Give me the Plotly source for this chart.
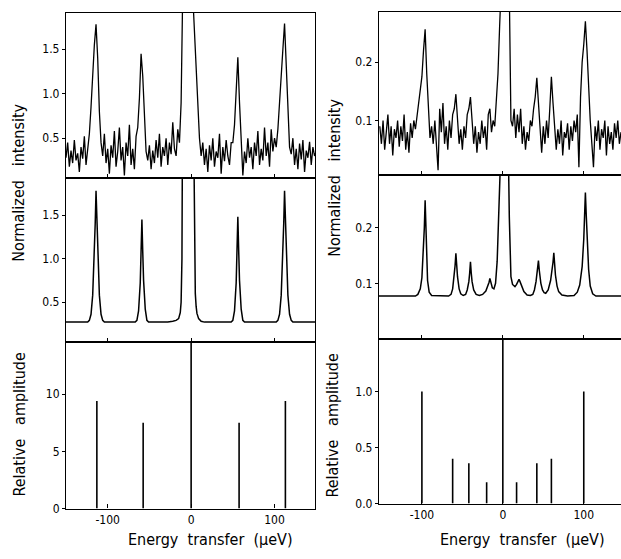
import plotly.graph_objects as go

# ---------------- data ----------------
# Left column: noisy measured spectrum (top), x grid -150..150 step 2
LT_X = list(range(-150, 151, 2))
LT_Y = [
    0.28, 0.45, 0.18, 0.36, 0.22, 0.48, 0.25, 0.33, 0.12, 0.40, 0.27, 0.52, 0.20,
    0.35, 0.55, 0.85, 1.25, 1.55, 1.78, 1.40, 0.80, 0.45,
    0.30, 0.55, 0.22, 0.38, 0.10, 0.42, 0.28, 0.58, 0.18, 0.35, 0.62, 0.25, 0.40, 0.08, 0.45, 0.30, 0.65, 0.20, 0.38, 0.15, 0.52,
    0.62, 0.95, 1.45, 1.20, 0.70, 0.35,
    0.25, 0.42, 0.15, 0.36, 0.22, 0.48, 0.28, 0.55, 0.18, 0.40, 0.30, 0.50, 0.20, 0.45, 0.32, 0.68, 0.38,
    0.30, 0.60, 0.45, 0.90, 2.50, 3.50, 4.00, 4.00, 3.50, 2.80, 2.10, 1.70, 1.20, 0.80, 0.50,
    0.30, 0.45, 0.20, 0.38, 0.12, 0.42, 0.25, 0.50, 0.18, 0.35, 0.28, 0.55, 0.10, 0.40, 0.24, 0.48, 0.30, 0.20, 0.45,
    0.45, 0.65, 1.00, 1.41, 0.90, 0.45,
    0.08, 0.35, 0.22, 0.50, 0.28, 0.40, 0.15, 0.45, 0.30, 0.58, 0.20, 0.38, 0.25, 0.62, 0.30, 0.45, 0.18, 0.60, 0.35, 0.50, 0.40,
    0.60, 0.95, 1.25, 1.50, 1.79, 1.30, 0.75, 0.40,
    0.32, 0.50, 0.20, 0.38, 0.15, 0.44, 0.26, 0.48, 0.12, 0.36, 0.28, 0.46, 0.20, 0.40, 0.30, 0.35,
]

# Left column: fitted curve (middle)
LM_X = [-150, -124, -122, -120, -118, -116, -115, -114, -113, -112, -110, -108, -106, -104,
        -67, -65, -63, -61, -60, -59, -58, -57, -55, -53, -51,
        -28, -22, -18, -15, -13, -12, -11, -10.5, -8, -3, 2, 3.5, 4, 5, 6, 7, 9, 12, 16,
        48, 50, 52, 54, 55, 56, 57, 58, 60, 62, 64,
        102, 104, 106, 108, 110, 111, 112, 113, 114, 116, 118, 120, 122, 150]
LM_Y = [0.27, 0.27, 0.29, 0.36, 0.58, 1.05, 1.40, 1.78, 1.42, 1.06, 0.58, 0.36, 0.29, 0.27,
        0.27, 0.29, 0.40, 0.72, 1.05, 1.45, 1.08, 0.75, 0.42, 0.29, 0.27,
        0.27, 0.28, 0.29, 0.31, 0.38, 0.50, 1.00, 2.20, 3.50, 4.50, 3.50, 2.20, 1.20, 0.60, 0.45, 0.37, 0.31, 0.28, 0.27,
        0.27, 0.29, 0.40, 0.72, 1.05, 1.48, 1.10, 0.75, 0.42, 0.29, 0.27,
        0.27, 0.29, 0.36, 0.58, 1.05, 1.40, 1.78, 1.42, 1.06, 0.58, 0.36, 0.29, 0.27, 0.27]

# Left column: relative amplitudes (bottom)
LB_POS = [-113, -57.5, 0, 57.5, 113]
LB_AMP = [9.4, 7.5, 30.0, 7.5, 9.4]

# Right column: noisy measured spectrum (top), x grid -152..146 step 2
RT_X = list(range(-152, 147, 2))
RT_Y = [
    0.090, 0.060, 0.100, 0.050, 0.080, 0.110, 0.060, 0.090, 0.040, 0.085, 0.070, 0.100, 0.055, 0.090, 0.065, 0.110, 0.050, 0.080, 0.045, 0.095, 0.070,
    0.100, 0.085, 0.110, 0.130, 0.160, 0.175, 0.220, 0.256, 0.180, 0.110,
    0.070, 0.090, 0.060, 0.100, 0.050, 0.015, 0.120, 0.080, 0.130, 0.060, 0.090, 0.050, 0.100, 0.070, 0.110, 0.120, 0.145, 0.100, 0.060, 0.085,
    0.050, 0.090, 0.070, 0.110, 0.120, 0.140, 0.100, 0.060, 0.090, 0.045, 0.080, 0.060, 0.100, 0.070, 0.090, 0.050, 0.110, 0.120, 0.080, 0.100,
    0.090, 0.130, 0.180, 0.260, 0.400, 0.500, 0.550, 0.550, 0.450, 0.320, 0.100,
    0.090, 0.120, 0.070, 0.110, 0.080, 0.120, 0.060, 0.090, 0.050, 0.080, 0.065, 0.100, 0.090, 0.120, 0.140, 0.173, 0.130, 0.080, 0.045, 0.090,
    0.060, 0.100, 0.070, 0.120, 0.175, 0.130, 0.090, 0.050, 0.085, 0.060, 0.100, 0.040, 0.080, 0.070, 0.095, 0.050, 0.090, 0.065, 0.100, 0.080,
    0.110, 0.020, 0.140, 0.200, 0.230, 0.270, 0.220, 0.150, 0.100, 0.060, 0.020,
    0.090, 0.065, 0.100, 0.050, 0.085, 0.070, 0.100, 0.040, 0.090, 0.060, 0.080, 0.050, 0.095, 0.070, 0.100, 0.060, 0.080,
]

# Right column: fitted curve (middle)
RM_X = [-153, -108, -105, -102, -100, -98, -97, -96, -95, -94, -93, -91, -88,
        -67, -64, -62, -60, -59, -58, -57, -56, -54, -52, -49,
        -46, -44, -42, -41, -40, -39, -38, -36, -33, -29,
        -25, -21, -18, -17, -16, -15, -13, -11, -9, -7, -5, -3, 0, 4, 7, 8, 9, 10, 12, 15, 17, 19, 20, 21, 23, 26, 30, 34,
        37, 39, 41, 43, 44, 45, 47, 49, 51, 53, 56, 59, 61, 62, 63, 64, 65, 67, 69, 73, 80,
        88, 92, 95, 98, 100, 101, 102, 103, 104, 106, 108, 111, 115, 146]
RM_Y = [0.077, 0.077, 0.080, 0.090, 0.110, 0.160, 0.200, 0.250, 0.200, 0.140, 0.105, 0.084, 0.078,
        0.077, 0.080, 0.090, 0.112, 0.132, 0.154, 0.132, 0.112, 0.090, 0.081, 0.078,
        0.080, 0.088, 0.103, 0.118, 0.139, 0.118, 0.103, 0.088, 0.080, 0.078,
        0.080, 0.086, 0.096, 0.102, 0.109, 0.102, 0.092, 0.090, 0.100, 0.140, 0.220, 0.320, 0.450, 0.450, 0.320, 0.220, 0.140, 0.112, 0.098, 0.094, 0.098, 0.104, 0.107, 0.104, 0.095, 0.085, 0.079, 0.078,
        0.080, 0.088, 0.103, 0.124, 0.141, 0.124, 0.100, 0.088, 0.083, 0.082, 0.088, 0.105, 0.125, 0.138, 0.155, 0.136, 0.115, 0.095, 0.085, 0.079, 0.077,
        0.078, 0.084, 0.097, 0.130, 0.180, 0.220, 0.264, 0.225, 0.190, 0.125, 0.095, 0.081, 0.077, 0.077]

# Right column: relative amplitudes (bottom)
RB_POS = [-100, -62, -42, -20, 0, 17, 42, 60, 100]
RB_AMP = [1.0, 0.40, 0.36, 0.19, 3.0, 0.19, 0.36, 0.40, 1.0]

# tick labels
LT_TICKS = [0.5, 1.0, 1.5]
LB_TICKS = [0, 5, 10]
RT_TICKS = [0.1, 0.2]
RB_TICKS = [0.0, 0.5, 1.0]
X_TICKS = [-100, 0, 100]

# ---------------- figure ----------------
FONT = "DejaVu Sans Condensed, Liberation Sans Narrow, Arial Narrow, sans-serif"
W, H = 621, 559


def stems(pos, amp):
    xs, ys = [], []
    for p, a in zip(pos, amp):
        xs += [p, p, None]
        ys += [0, a, None]
    return xs, ys


fig = go.Figure()
line = dict(color="black", width=1.3)
fig.add_trace(go.Scatter(x=LT_X, y=LT_Y, mode="lines", line=line, xaxis="x", yaxis="y"))
fig.add_trace(go.Scatter(x=LM_X, y=LM_Y, mode="lines", line=dict(color="black", width=1.5), xaxis="x2", yaxis="y2"))
sx, sy = stems(LB_POS, LB_AMP)
fig.add_trace(go.Scatter(x=sx, y=sy, mode="lines", line=dict(color="black", width=1.6), xaxis="x3", yaxis="y3"))
fig.add_trace(go.Scatter(x=RT_X, y=RT_Y, mode="lines", line=line, xaxis="x4", yaxis="y4"))
fig.add_trace(go.Scatter(x=RM_X, y=RM_Y, mode="lines", line=dict(color="black", width=1.5), xaxis="x5", yaxis="y5"))
sx, sy = stems(RB_POS, RB_AMP)
fig.add_trace(go.Scatter(x=sx, y=sy, mode="lines", line=dict(color="black", width=1.6), xaxis="x6", yaxis="y6"))

LX = [66 / W, 315 / W]
RX = [379 / W, 1.0]


def yd(top, bot):
    return [1 - bot / H, 1 - top / H]


def xax(domain, rng, labels, anchor):
    return dict(domain=domain, range=rng, showline=True, mirror=True, linecolor="black", linewidth=1.2,
                showgrid=False, zeroline=False, ticks="inside", ticklen=4, tickcolor="black",
                tickvals=X_TICKS, ticktext=["-100", "0", "100"], showticklabels=labels, anchor=anchor,
                tickfont=dict(family=FONT, size=12, color="black"))


def yax(domain, rng, vals, txt, anchor, mirror=True):
    return dict(domain=domain, range=rng, showline=True, mirror=mirror, linecolor="black", linewidth=1.2,
                showgrid=False, zeroline=False, ticks="outside", ticklen=3, tickcolor="black",
                tickvals=vals, ticktext=txt, anchor=anchor,
                tickfont=dict(family=FONT, size=12, color="black"))


fig.update_layout(
    width=W, height=H, margin=dict(l=0, r=0, t=0, b=0), autosize=False,
    paper_bgcolor="white", plot_bgcolor="white", showlegend=False,
    font=dict(family=FONT, color="black"),
    xaxis=xax(LX, [-150, 148.5], False, "y"),
    yaxis=yax(yd(13, 180), [0.055, 1.91], LT_TICKS, ["0.5", "1.0", "1.5"], "x"),
    xaxis2=xax(LX, [-150, 148.5], False, "y2"),
    yaxis2=yax(yd(180, 346), [0.045, 1.93], LT_TICKS, ["0.5", "1.0", "1.5"], "x2"),
    xaxis3=xax(LX, [-150, 148.5], True, "y3"),
    yaxis3=yax(yd(346, 515), [0, 14.6], LB_TICKS, ["0", "5", "10"], "x3"),
    xaxis4=xax(RX, [-153, 146], False, "y4"),
    yaxis4=yax(yd(12, 177), [0.007, 0.286], RT_TICKS, ["0.1", "0.2"], "x4", False),
    xaxis5=xax(RX, [-153, 146], False, "y5"),
    yaxis5=yax(yd(177, 343), [0.0, 0.296], RT_TICKS, ["0.1", "0.2"], "x5", False),
    xaxis6=xax(RX, [-153, 146], True, "y6"),
    yaxis6=yax(yd(343, 510), [0.0, 1.47], RB_TICKS, ["0.0", "0.5", "1.0"], "x6", False),
)

ann_font = dict(family=FONT, size=16, color="black")
anns = [
    dict(text="Normalized   intensity", x=19 / W, y=1 - 185 / H, textangle=-90),
    dict(text="Normalized   intensity", x=335 / W, y=1 - 180 / H, textangle=-90),
    dict(text="Relative   amplitude", x=20 / W, y=1 - 430 / H, textangle=-90),
    dict(text="Relative   amplitude", x=333 / W, y=1 - 431 / H, textangle=-90),
    dict(text="Energy  transfer  (µeV)", x=210 / W, y=1 - 546 / H, textangle=0),
    dict(text="Energy  transfer  (µeV)", x=522 / W, y=1 - 546 / H, textangle=0),
]
for a in anns:
    fig.add_annotation(xref="paper", yref="paper", showarrow=False, xanchor="center", yanchor="middle",
                       font=ann_font, **a)

fig.write_html("out.html")
